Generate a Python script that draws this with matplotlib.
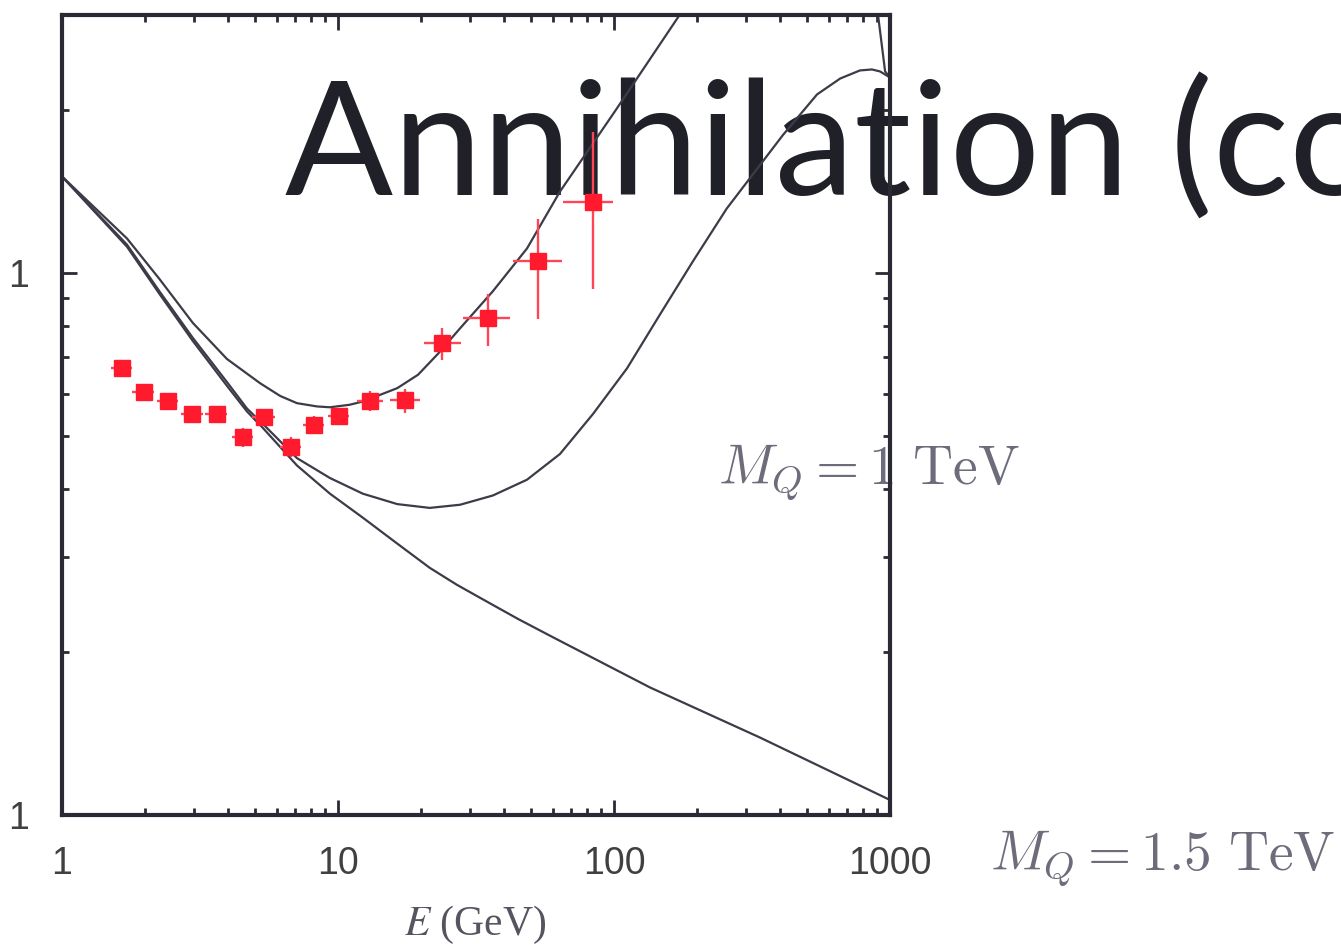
import numpy as np
import matplotlib
matplotlib.use("Agg")
import matplotlib.pyplot as plt
from matplotlib.ticker import FixedLocator, FixedFormatter, LogLocator, NullFormatter

# ---- data ----
# measured points (red squares)
energy = [1.65, 1.98, 2.42, 2.96, 3.64, 4.53, 5.4, 6.76, 8.19, 10.1, 13.1, 17.5, 23.8, 34.9, 53.0, 84.0]
fraction = [0.668, 0.604, 0.581, 0.550, 0.550, 0.499, 0.543, 0.478, 0.525, 0.545, 0.581, 0.583,
            0.743, 0.826, 1.052, 1.357]
err_lo = [0.02, 0.02, 0.02, 0.02, 0.02, 0.02, 0.02, 0.02, 0.02, 0.02, 0.025, 0.03, 0.05, 0.092, 0.229, 0.42]
err_hi = [0.02, 0.02, 0.02, 0.02, 0.02, 0.02, 0.02, 0.02, 0.02, 0.02, 0.025, 0.03, 0.05, 0.089, 0.21, 0.47]
bin_lo = [0.15, 0.18, 0.22, 0.27, 0.33, 0.4, 0.5, 0.6, 0.7, 0.9, 1.4, 2.1, 3.3, 6.5, 9.9, 18.7]
bin_hi = [0.15, 0.18, 0.22, 0.27, 0.33, 0.4, 0.5, 0.6, 0.7, 0.9, 1.5, 2.3, 4.2, 7.1, 11.8, 15.2]

# upper curve (goes off the top and comes back in at the right edge)
upper_e = [1, 1.72, 2.26, 2.98, 3.96, 5.22, 6.17, 7.1, 8.4, 9.35, 11, 12.3, 14.6, 16.4, 19.5, 23,
           27.7, 36.4, 48.4, 63.7, 102, 169, 220, 600, 870, 905, 960, 1000]
upper_y = [1.51, 1.16, 0.975, 0.81, 0.695, 0.627, 0.594, 0.576, 0.568, 0.566, 0.572, 0.58, 0.60,
           0.614, 0.65, 0.71, 0.792, 0.927, 1.112, 1.416, 2.01, 2.95, 3.6, 6.0, 4.2, 3.0, 2.36, 2.3]

# middle curve
middle_e = [1, 1.72, 2.26, 2.98, 3.96, 4.68, 5.35, 7.1, 9.35, 12.3, 16.4, 21.5, 27.7, 36.4, 48.4,
            63.7, 83.9, 111.5, 146.8, 193, 256, 409, 544, 660, 778, 860, 920, 1000]
middle_y = [1.51, 1.13, 0.925, 0.76, 0.63, 0.563, 0.527, 0.456, 0.419, 0.392, 0.375, 0.369, 0.374,
            0.389, 0.416, 0.464, 0.550, 0.668, 0.840, 1.052, 1.317, 1.80, 2.14, 2.29, 2.37, 2.38,
            2.36, 2.30]

# lower curve
lower_e = [1, 1.72, 2.26, 2.98, 3.96, 4.68, 5.35, 7.1, 9.35, 12.3, 16.4, 21.5, 27, 35, 45, 60, 135,
           338, 1000]
lower_y = [1.51, 1.12, 0.915, 0.75, 0.62, 0.556, 0.518, 0.442, 0.392, 0.354, 0.317, 0.286, 0.266,
           0.247, 0.23, 0.213, 0.172, 0.139, 0.1066]

x_ticks = [1, 10, 100, 1000]
x_labels = ["1", "10", "100", "1000"]
y_ticks = [0.1, 1]
y_labels = ["1", "1"]

W, H = 1341, 947
fig = plt.figure(figsize=(W / 100, H / 100), dpi=100)

# slide text sits behind the plot
fig.text(285 / W, 1 - 195 / H, "Annihilation (co", family="Lato", fontsize=115,
         color="#202028", ha="left", va="baseline", zorder=-5)
fig.text(718 / W, 1 - 472 / H, r"$M_Q = 1\ \mathrm{TeV}$", math_fontfamily="cm", fontsize=40,
         color="#6c6c7a", ha="left", va="center", zorder=-5)
fig.text(990 / W, 1 - 858 / H, r"$M_Q = 1.5\ \mathrm{TeV}$", math_fontfamily="cm", fontsize=40,
         color="#6c6c7a", ha="left", va="center", zorder=-5)
fig.text(475 / W, 1 - 925 / H, r"$E$ (GeV)", family="Liberation Serif", math_fontfamily="stix",
         fontsize=30, color="#555560", ha="center", va="center", zorder=-5)

ax = fig.add_axes([62 / W, 1 - 815 / H, 828 / W, 800 / H])
ax.set_facecolor("none")
ax.set_xscale("log")
ax.set_yscale("log")
ax.set_xlim(1, 1000)
ax.set_ylim(0.1, 3)

line_col = "#3c3c48"
ax.plot(upper_e, upper_y, color=line_col, lw=1.6, solid_joinstyle="round")
ax.plot(middle_e, middle_y, color=line_col, lw=1.6, solid_joinstyle="round")
ax.plot(lower_e, lower_y, color=line_col, lw=1.6, solid_joinstyle="round")

ax.errorbar(energy, fraction, xerr=[bin_lo, bin_hi], yerr=[err_lo, err_hi], fmt="s", ms=11.5,
            color="#ff1a2e", ecolor="#ff4455", elinewidth=1.7, capsize=0, zorder=5)

ax.xaxis.set_major_locator(FixedLocator(x_ticks))
ax.xaxis.set_major_formatter(FixedFormatter(x_labels))
ax.xaxis.set_minor_locator(LogLocator(base=10, subs=np.arange(2, 10)))
ax.xaxis.set_minor_formatter(NullFormatter())
ax.yaxis.set_major_locator(FixedLocator(y_ticks))
ax.yaxis.set_major_formatter(FixedFormatter(y_labels))
ax.yaxis.set_minor_locator(LogLocator(base=10, subs=np.arange(2, 10)))
ax.yaxis.set_minor_formatter(NullFormatter())

ax.tick_params(which="both", direction="in", top=True, right=True, color="#2a2a35")
ax.tick_params(which="major", length=11, width=2)
ax.tick_params(which="minor", length=5, width=2)
ax.tick_params(axis="both", labelsize=27, labelcolor="#404040")
ax.tick_params(axis="x", pad=22)
ax.tick_params(axis="y", pad=24)
for lab in ax.get_xticklabels() + ax.get_yticklabels():
    lab.set_family("Liberation Sans")

for sp in ax.spines.values():
    sp.set_linewidth(3)
    sp.set_color("#2a2a35")

fig.savefig("out.png", dpi=100)
